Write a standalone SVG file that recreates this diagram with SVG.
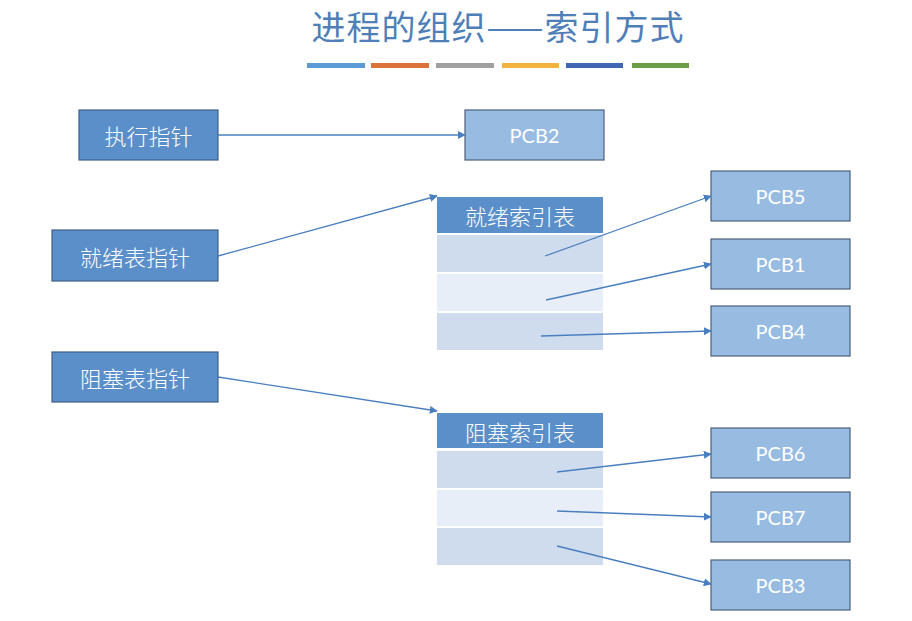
<svg xmlns="http://www.w3.org/2000/svg" width="912" height="621" viewBox="0 0 912 621">
<defs>
<marker id="ah" viewBox="0 0 10 10" refX="9" refY="5" markerWidth="8" markerHeight="8" markerUnits="userSpaceOnUse" orient="auto">
<path d="M0,0 L10,5 L0,10 z" fill="#4a7fbf"/>
</marker>
<style>
.dark{fill:#5b8fca;stroke:#3f5f85;stroke-width:1.2}
.light{fill:#98bbe2;stroke:#4b5f78;stroke-width:1.2}
.hdr{fill:#5b8fca}
.r1{fill:#cfdcee}
.r2{fill:#e8eef7}
.cn{font-family:"Noto Sans CJK SC","Noto Sans",sans-serif;font-size:22px;font-weight:300;fill:#ffffff;text-anchor:middle;dominant-baseline:central}
.en{font-family:Lato,"Noto Sans",sans-serif;font-size:20px;fill:#ffffff;text-anchor:middle;dominant-baseline:central}
.ln{stroke:#4a7fbf;stroke-width:1.3;fill:none;marker-end:url(#ah)}
</style>
</defs>
<rect width="912" height="621" fill="#ffffff"/>
<g id="title">
<text x="498" y="25" font-family="Noto Sans CJK SC,sans-serif" font-size="34" letter-spacing="1" fill="#4f7fb8" text-anchor="middle" dominant-baseline="central">进程的组织——索引方式</text>
<rect x="307" y="63" width="58" height="5" fill="#5b9bd5"/>
<rect x="371" y="63" width="58" height="5" fill="#d9733a"/>
<rect x="436" y="63" width="58" height="5" fill="#a0a0a0"/>
<rect x="502" y="63" width="57" height="5" fill="#f2b33d"/>
<rect x="566" y="63" width="57" height="5" fill="#3f66b0"/>
<rect x="632" y="63" width="57" height="5" fill="#6c9c46"/>
</g>
<g id="exec_ptr"><rect class="dark" x="79" y="110" width="139" height="50"/><text class="cn" x="148.5" y="135">执行指针</text></g>
<g id="pcb2"><rect class="light" x="465" y="110" width="139" height="50"/><text class="en" x="534.5" y="135">PCB2</text></g>
<g id="ready_ptr"><rect class="dark" x="52" y="230" width="166" height="51"/><text class="cn" x="135" y="255.5">就绪表指针</text></g>
<g id="block_ptr"><rect class="dark" x="52" y="352" width="166" height="50"/><text class="cn" x="135" y="377">阻塞表指针</text></g>
<g id="ready_table">
<rect class="hdr" x="437" y="197" width="166" height="36"/>
<text class="cn" x="520" y="215">就绪索引表</text>
<rect class="r1" x="437" y="235" width="166" height="37"/>
<rect class="r2" x="437" y="274" width="166" height="37"/>
<rect class="r1" x="437" y="313" width="166" height="37"/>
</g>
<g id="block_table">
<rect class="hdr" x="437" y="413" width="166" height="35"/>
<text class="cn" x="520" y="430.5">阻塞索引表</text>
<rect class="r1" x="437" y="451" width="166" height="37"/>
<rect class="r2" x="437" y="490" width="166" height="36"/>
<rect class="r1" x="437" y="528" width="166" height="37"/>
</g>
<g id="pcb5"><rect class="light" x="711" y="171" width="139" height="50"/><text class="en" x="780.5" y="196">PCB5</text></g>
<g id="pcb1"><rect class="light" x="711" y="239" width="139" height="50"/><text class="en" x="780.5" y="264">PCB1</text></g>
<g id="pcb4"><rect class="light" x="711" y="306" width="139" height="50"/><text class="en" x="780.5" y="331">PCB4</text></g>
<g id="pcb6"><rect class="light" x="711" y="428" width="139" height="50"/><text class="en" x="780.5" y="453">PCB6</text></g>
<g id="pcb7"><rect class="light" x="711" y="492" width="139" height="50"/><text class="en" x="780.5" y="517">PCB7</text></g>
<g id="pcb3"><rect class="light" x="711" y="560" width="139" height="50"/><text class="en" x="780.5" y="585">PCB3</text></g>
<g id="connectors">
<line class="ln" x1="218" y1="135" x2="465" y2="135"/>
<line class="ln" x1="218" y1="256" x2="437" y2="196"/>
<line class="ln" x1="218" y1="377" x2="437" y2="411"/>
<line class="ln" x1="545" y1="256" x2="711" y2="196"/>
<line class="ln" x1="546" y1="300" x2="711" y2="264"/>
<line class="ln" x1="541" y1="336" x2="711" y2="331"/>
<line class="ln" x1="557" y1="472" x2="711" y2="454"/>
<line class="ln" x1="557" y1="511" x2="711" y2="517"/>
<line class="ln" x1="557" y1="546" x2="711" y2="584"/>
</g>
</svg>
